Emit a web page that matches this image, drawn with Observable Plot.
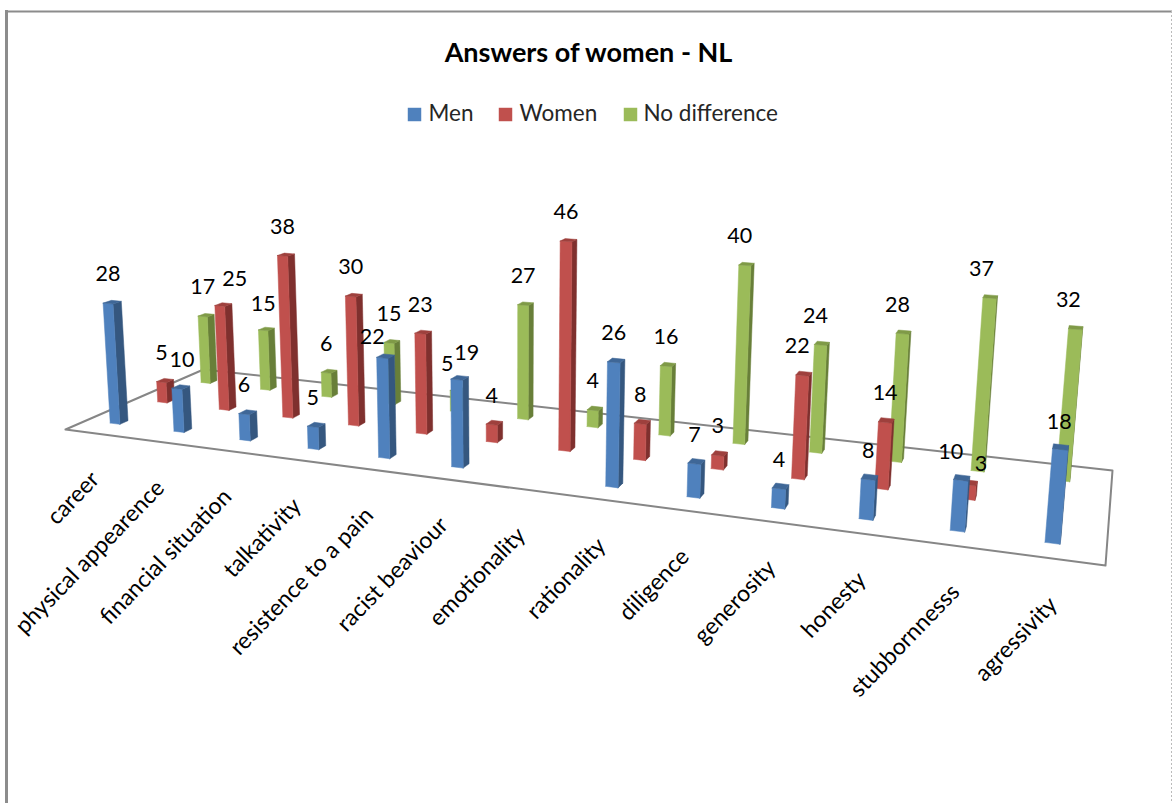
<!DOCTYPE html>
<html><head><meta charset="utf-8">
<script src="https://cdn.jsdelivr.net/npm/d3@7"></script>
<script src="https://cdn.jsdelivr.net/npm/@observablehq/plot@0.6"></script>
<style>html,body{margin:0;padding:0;background:#fff;overflow:hidden}svg{display:block}</style>
</head><body><div id="chart"></div>
<script>
const categories = ["career","physical appearence","financial situation","talkativity","resistence to a pain","racist beaviour","emotionality","rationality","diligence","generosity","honesty","stubbornnesss","agressivity"];
const men        = [28,10,6,5,22,19,null,26,7,4,8,10,18];
const women      = [5,25,38,30,23,4,46,8,3,22,14,3,null];
const noDiff     = [17,15,6,15,5,27,4,16,40,24,28,37,32];
const seriesNames = ["Men","Women","No difference"];
const seriesValues = [men, women, noDiff];
const palette = [
  {front:"#4f81bd", side:"#35577f", top:"#3f6797"},
  {front:"#c0504d", side:"#7f302e", top:"#9e403d"},
  {front:"#9bbb59", side:"#687f39", top:"#7f9a47"}
];
// small label shifts seen in the reference: "series-category": [dx, dy]
const labelNudge = {
  "0-1":[5,0],"1-1":[15,2],"2-1":[0,3],"0-4":[-10,8],"2-4":[-8,2],"0-5":[10,2],
  "2-8":[-5,0],"1-9":[-5,0],"2-9":[-5,0],"2-10":[-5,0],"0-11":[-10,1],"1-11":[12,8],
  "2-11":[-8,0],"2-12":[-7,0],"0-12":[-1,2]
};

// 3D chart box -> screen: floor corners, vertical vanishing point
const floor = [[65,429],[1105,565],[1112,470],[203,369]];
const vp = [510,7200], lift = -0.00063;
const barU = 0.155/13, barV = 0.055, shiftU = -0.004;
const [[x0,y0],[x1,y1],[x2,y2],[x3,y3]] = floor;
const dx1=x1-x2, dx2=x3-x2, sx=x0-x1+x2-x3, dy1=y1-y2, dy2=y3-y2, sy=y0-y1+y2-y3;
const det=dx1*dy2-dx2*dy1, g=(sx*dy2-dx2*sy)/det, h=(dx1*sy-sx*dy1)/det;
const a=x1-x0+g*x1, b=x3-x0+h*x3, d=y1-y0+g*y1, e=y3-y0+h*y3;
function project(u,v,z){
  const k=lift*z, X=a*u+b*v+x0+k*vp[0], Y=d*u+e*v+y0+k*vp[1], W=g*u+h*v+1+k;
  return [X/W,Y/W];
}

const faces=[], labels=[];
for(let j=2;j>=0;j--){
  seriesValues[j].forEach((val,i)=>{
    if(val==null) return;
    const uc=(i+.5)/13+shiftU, vc=(j+.5)/3;
    const ul=uc-barU/2, ur=uc+barU/2, vf=vc-barV/2, vb=vc+barV/2;
    const poly=(key,color,pts)=>pts.forEach(p=>{
      const [px,py]=project(...p);
      faces.push({id:`${j}-${i}-${key}`,color,px,py});
    });
    poly("side",palette[j].side,[[ur,vf,0],[ur,vb,0],[ur,vb,val],[ur,vf,val],[ur,vf,0]]);
    poly("front",palette[j].front,[[ul,vf,0],[ur,vf,0],[ur,vf,val],[ul,vf,val],[ul,vf,0]]);
    poly("top",palette[j].top,[[ul,vf,val],[ur,vf,val],[ur,vb,val],[ul,vb,val],[ul,vf,val]]);
    const [lx,ly]=project(uc,vf,val);
    const [nx,ny]=labelNudge[`${j}-${i}`]||[0,0];
    labels.push({val,lx:lx+nx,ly:ly+ny});
  });
}
const floorPts=[[0,0],[1,0],[1,1],[0,1],[0,0]].map(([u,v])=>project(u,v,0));
const catLabels=categories.map((name,i)=>{
  const [px,py]=project((i+.5)/13,0,0);
  return {name,px,py};
});
const legendItems=seriesNames.map((name,j)=>({name,color:palette[j].front,sx:[414,505,630][j],tx:[428,519,643][j]}));

const font="Lato, 'Open Sans', sans-serif";
const chart=Plot.plot({
  width:1172,height:803,margin:0,
  x:{domain:[0,1172],range:[0,1172],axis:null},
  y:{domain:[0,803],range:[0,803],axis:null},
  color:{type:"identity"},
  style:{background:"#fff",fontFamily:font},
  marks:[
    Plot.ruleY([11],{x1:6,x2:1172,stroke:"#8c8c8c",strokeWidth:2}),
    Plot.ruleX([6],{y1:10,y2:803,stroke:"#8c8c8c",strokeWidth:3}),
    Plot.ruleX([1171],{y1:11,y2:803,stroke:"#bbbbbb",strokeWidth:1,strokeDasharray:"2,2"}),
    Plot.line(floorPts,{x:d=>d[0],y:d=>d[1],stroke:"#868686",strokeWidth:2}),
    Plot.line(faces,{x:"px",y:"py",z:"id",fill:"color",stroke:"color",strokeWidth:.5}),
    Plot.text(labels,{x:"lx",y:"ly",text:d=>String(d.val),dy:-29,fontSize:21.5,fill:"#000"}),
    Plot.text(catLabels,{x:"px",y:"py",text:"name",dx:-2,dy:42,rotate:-46,textAnchor:"end",fontSize:23,fill:"#000"}),
    Plot.text(["Answers of women - NL"],{x:()=>588,y:()=>53,text:d=>d,fontSize:27,fontWeight:"bold",fill:"#000"}),
    Plot.dot(legendItems,{x:"sx",y:()=>114,symbol:"square",r:7.6,fill:"color"}),
    Plot.text(legendItems,{x:"tx",y:()=>113,text:"name",textAnchor:"start",fontSize:22.5,fill:"#262626"})
  ]
});
document.getElementById("chart").append(chart);
</script></body></html>
